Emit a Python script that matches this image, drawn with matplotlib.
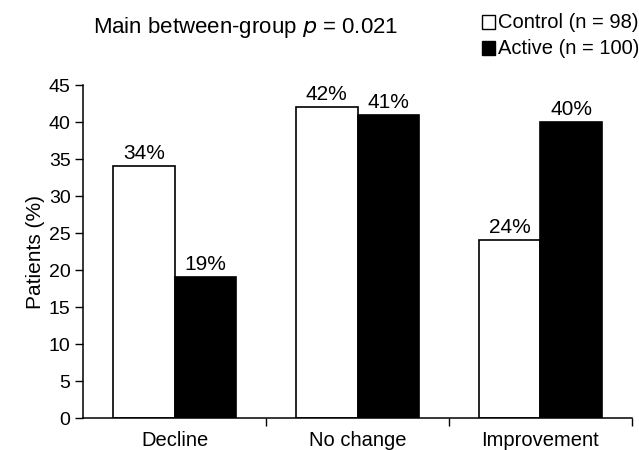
import matplotlib
matplotlib.use("Agg")
import matplotlib.pyplot as plt
import numpy as np
from matplotlib.patches import Rectangle

categories = ["Decline", "No change", "Improvement"]
control = [34, 42, 24]
active = [19, 41, 40]
control_labels = ["34%", "42%", "24%"]
active_labels = ["19%", "41%", "40%"]
yticks = [0, 5, 10, 15, 20, 25, 30, 35, 40, 45]

plt.rcParams['font.family'] = ['Liberation Sans', 'DejaVu Sans']

fig = plt.figure(figsize=(6.39, 4.5), dpi=100)
ax = fig.add_axes([0.130, 0.071, 0.859, 0.740])

x = np.arange(len(categories))
w = 0.335
ax.bar(x - w/2, control, width=w, color='white', edgecolor='black', linewidth=1.2)
ax.bar(x + w/2, active, width=w, color='black', edgecolor='black', linewidth=1.2)

for xi, v, lab in zip(x - w/2, control, control_labels):
    ax.text(xi, v + 0.4, lab, ha='center', va='bottom', fontsize=15)
for xi, v, lab in zip(x + w/2, active, active_labels):
    ax.text(xi, v + 0.4, lab, ha='center', va='bottom', fontsize=15)

ax.set_xlim(-0.5, 2.5)
ax.set_ylim(0, 45)
ax.set_yticks(yticks)
ax.tick_params(axis='y', direction='out', length=6, width=1, labelsize=14, pad=3)
ax.set_xticks([0.5, 1.5, 2.5])
ax.set_xticklabels([])
ax.tick_params(axis='x', direction='out', length=6, width=1)
for xi, c in zip(x, categories):
    ax.text(xi, -1.8, c, ha='center', va='top', fontsize=14.5)

ax.spines['top'].set_visible(False)
ax.spines['right'].set_visible(False)
ax.spines['left'].set_linewidth(1.1)
ax.spines['bottom'].set_linewidth(1.1)
ax.set_ylabel("Patients (%)", fontsize=15, labelpad=3)

fig.text(0.145, 0.94, "Main between-group $\\it{p}$ = 0.021", fontsize=16, va='center', ha='left')

# legend
fig.patches.append(Rectangle((0.755, 0.936), 0.020, 0.030, transform=fig.transFigure,
                             facecolor='white', edgecolor='black', linewidth=1))
fig.patches.append(Rectangle((0.755, 0.878), 0.020, 0.030, transform=fig.transFigure,
                             facecolor='black', edgecolor='black', linewidth=1))
fig.text(0.779, 0.951, "Control (n = 98)", fontsize=14.5, va='center', ha='left')
fig.text(0.779, 0.893, "Active (n = 100)", fontsize=14.5, va='center', ha='left')

fig.savefig("out.png", dpi=100)
